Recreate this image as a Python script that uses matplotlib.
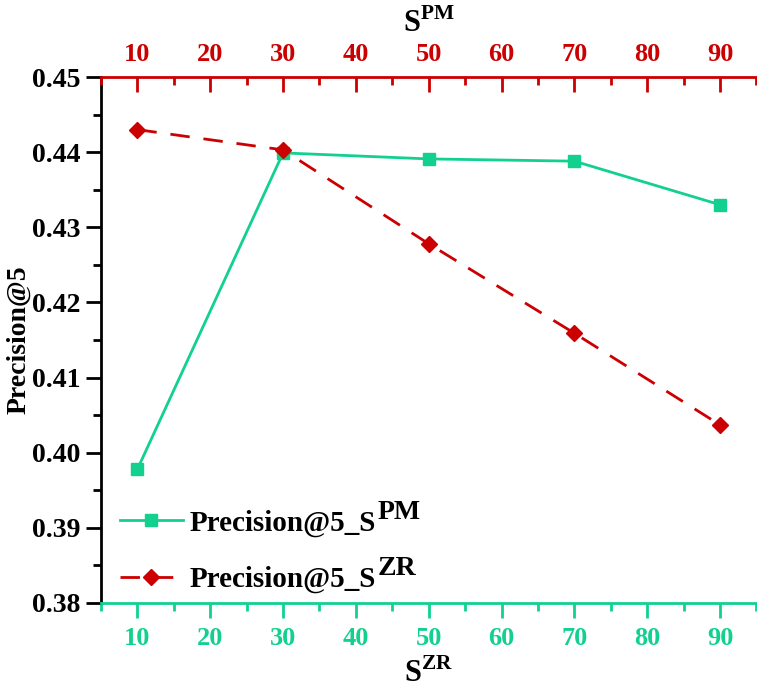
import matplotlib
matplotlib.use('Agg')
import matplotlib.pyplot as plt
from matplotlib.ticker import MultipleLocator

plt.rcParams['font.family'] = 'Liberation Serif'
plt.rcParams['font.weight'] = 'bold'
plt.rcParams['mathtext.fontset'] = 'custom'
plt.rcParams['mathtext.rm'] = 'Liberation Serif:bold'
plt.rcParams['mathtext.bf'] = 'Liberation Serif:bold'

# values
s_values = [10, 30, 50, 70, 90]
prec_pm = [0.3978, 0.4399, 0.4391, 0.4388, 0.4330]
prec_zr = [0.4430, 0.4403, 0.4278, 0.4159, 0.4037]
legend_sups = ['PM', 'ZR']

green = '#12d18e'
red = '#cc0000'

fig = plt.figure(figsize=(7.57, 6.87), dpi=100)
ax = fig.add_axes([0.1334, 0.1223, 0.8659, 0.7656])

ax.plot(s_values, prec_pm, color=green, lw=2, marker='s', ms=8,
        label='Precision@5_S')
ax.plot(s_values, prec_zr, color=red, lw=2, ls=(0, (7, 5)), marker='D', ms=8,
        label='Precision@5_S')

ax.set_xlim(5, 95)
ax.set_ylim(0.38, 0.45)
ax.xaxis.set_major_locator(MultipleLocator(10))
ax.xaxis.set_minor_locator(MultipleLocator(5))
ax.yaxis.set_major_locator(MultipleLocator(0.01))
ax.yaxis.set_minor_locator(MultipleLocator(0.005))
ax.yaxis.set_major_formatter(plt.FormatStrFormatter('%.2f'))

for s in ['top', 'right']:
    ax.spines[s].set_visible(False)
ax.spines['left'].set_linewidth(2)
ax.spines['bottom'].set_linewidth(2)
ax.spines['bottom'].set_color(green)

ax.tick_params(axis='y', which='major', direction='out', length=11, width=2,
               labelsize=20, pad=4)
ax.tick_params(axis='y', which='minor', direction='out', length=6, width=2)
ax.tick_params(axis='x', which='major', direction='out', length=11, width=2,
               colors=green, labelsize=19, pad=6)
ax.tick_params(axis='x', which='minor', direction='out', length=6, width=2,
               colors=green)

ax.set_ylabel('Precision@5', fontsize=20, fontweight='bold', labelpad=0)
ax.set_xlabel(r'S$^{\mathbf{ZR}}$', fontsize=22, fontweight='bold', labelpad=6)

top = ax.twiny()
top.set_xlim(ax.get_xlim())
top.xaxis.set_major_locator(MultipleLocator(10))
top.xaxis.set_minor_locator(MultipleLocator(5))
for s in ['bottom', 'right', 'left']:
    top.spines[s].set_visible(False)
top.spines['top'].set_linewidth(2)
top.spines['top'].set_color(red)
top.tick_params(axis='x', which='major', direction='in', length=11, width=2,
                colors=red, labelsize=19, pad=8)
top.tick_params(axis='x', which='minor', direction='in', length=6, width=2,
                colors=red)
top.set_xlabel(r'S$^{\mathbf{PM}}$', fontsize=22, fontweight='bold', labelpad=8)

leg = ax.legend(loc='lower left', bbox_to_anchor=(0.011, -0.004), frameon=False,
                fontsize=21, handlelength=2.15, handletextpad=0.25,
                labelspacing=1.0, borderaxespad=0)

# full-size raised superscripts after each legend entry
fig.canvas.draw()
for txt, sup in zip(leg.get_texts(), legend_sups):
    bb = txt.get_window_extent()
    fig.text(bb.x1 + 1, bb.y0 + 0.45 * bb.height, sup, transform=None,
             ha='left', va='bottom', fontsize=20, fontweight='bold')

fig.savefig('out.png', dpi=100)
